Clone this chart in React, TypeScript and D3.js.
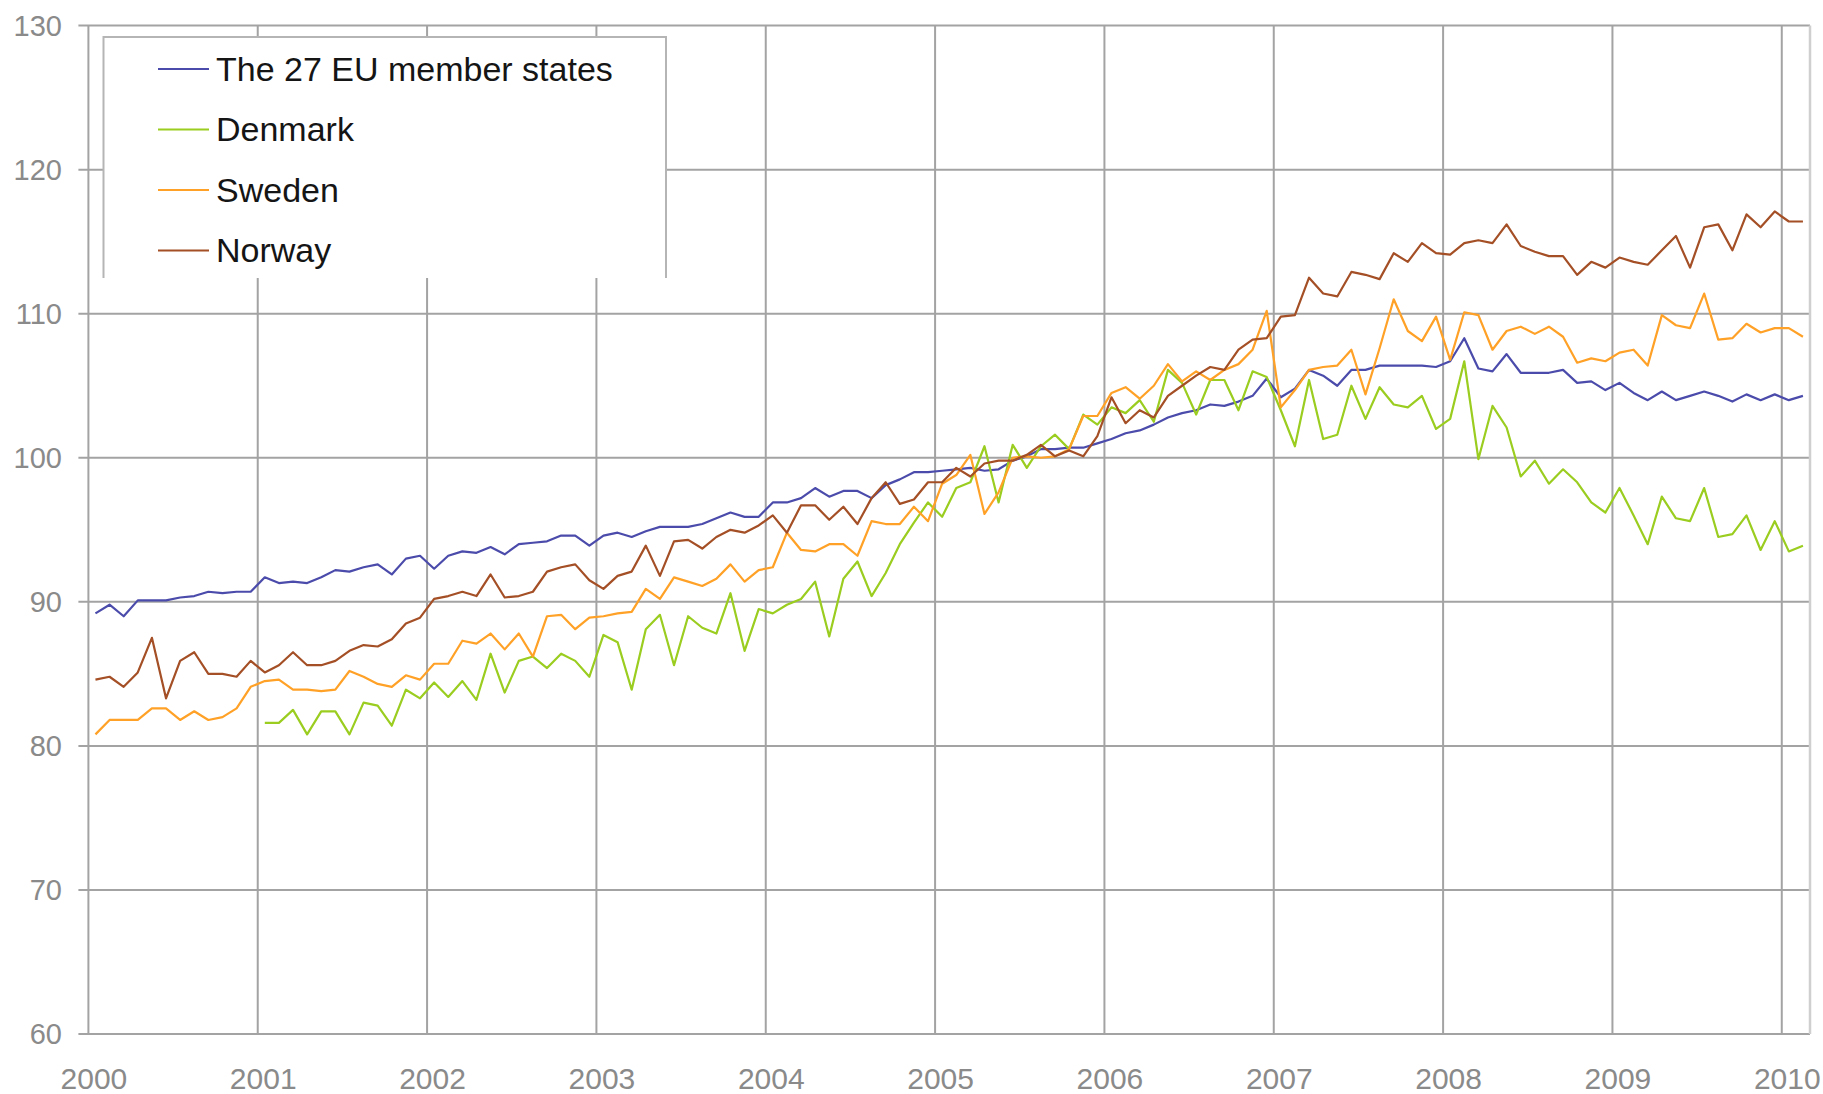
import React from "react";
import * as d3 from "d3";

const years = ["2000", "2001", "2002", "2003", "2004", "2005", "2006", "2007", "2008", "2009", "2010"];
const yTicks = [60, 70, 80, 90, 100, 110, 120, 130];
const seriesNames = ["The 27 EU member states", "Denmark", "Sweden", "Norway"];
const seriesColors = ["#4b4bab", "#9acd1f", "#ffa126", "#a44f25"];

// monthly values, Jan 2000 .. Feb 2010
const eu27 = [
  89.2, 89.8, 89.0, 90.1, 90.1, 90.1, 90.3, 90.4, 90.7, 90.6, 90.7, 90.7,
  91.7, 91.3, 91.4, 91.3, 91.7, 92.2, 92.1, 92.4, 92.6, 91.9, 93.0, 93.2,
  92.3, 93.2, 93.5, 93.4, 93.8, 93.3, 94.0, 94.1, 94.2, 94.6, 94.6, 93.9,
  94.6, 94.8, 94.5, 94.9, 95.2, 95.2, 95.2, 95.4, 95.8, 96.2, 95.9, 95.9,
  96.9, 96.9, 97.2, 97.9, 97.3, 97.7, 97.7, 97.2, 98.1, 98.5, 99.0, 99.0,
  99.1, 99.2, 99.3, 99.1, 99.2, 99.8, 100.1, 100.6, 100.6, 100.7, 100.7, 101.0,
  101.3, 101.7, 101.9, 102.3, 102.8, 103.1, 103.3, 103.7, 103.6, 103.9, 104.3, 105.5,
  104.2, 104.8, 106.1, 105.7, 105.0, 106.1, 106.1, 106.4, 106.4, 106.4, 106.4, 106.3,
  106.7, 108.3, 106.2, 106.0, 107.2, 105.9, 105.9, 105.9, 106.1, 105.2, 105.3, 104.7,
  105.2, 104.5, 104.0, 104.6, 104.0, 104.3, 104.6, 104.3, 103.9, 104.4, 104.0, 104.4,
  104.0, 104.3,
];

const denmark: (number | null)[] = [
  null, null, null, null, null, null, null, null, null, null, null, null,
  81.6, 81.6, 82.5, 80.8, 82.4, 82.4, 80.8, 83.0, 82.8, 81.4, 83.9, 83.3,
  84.4, 83.4, 84.5, 83.2, 86.4, 83.7, 85.9, 86.2, 85.4, 86.4, 85.9, 84.8,
  87.7, 87.2, 83.9, 88.1, 89.1, 85.6, 89.0, 88.2, 87.8, 90.6, 86.6, 89.5,
  89.2, 89.8, 90.2, 91.4, 87.6, 91.6, 92.8, 90.4, 92.0, 94.0, 95.5, 96.9,
  95.9, 97.9, 98.3, 100.8, 96.9, 100.9, 99.3, 100.8, 101.6, 100.6, 103.0, 102.3,
  103.5, 103.1, 104.0, 102.5, 106.1, 105.2, 103.0, 105.4, 105.4, 103.3, 106.0, 105.6,
  103.3, 100.8, 105.4, 101.3, 101.6, 105.0, 102.7, 104.9, 103.7, 103.5, 104.3, 102.0,
  102.7, 106.7, 99.9, 103.6, 102.1, 98.7, 99.8, 98.2, 99.2, 98.3, 96.9, 96.2,
  97.9, 96.0, 94.0, 97.3, 95.8, 95.6, 97.9, 94.5, 94.7, 96.0, 93.6, 95.6,
  93.5, 93.9,
];

const sweden = [
  80.8, 81.8, 81.8, 81.8, 82.6, 82.6, 81.8, 82.4, 81.8, 82.0, 82.6, 84.1,
  84.5, 84.6, 83.9, 83.9, 83.8, 83.9, 85.2, 84.8, 84.3, 84.1, 84.9, 84.6,
  85.7, 85.7, 87.3, 87.1, 87.8, 86.7, 87.8, 86.2, 89.0, 89.1, 88.1, 88.9,
  89.0, 89.2, 89.3, 90.9, 90.2, 91.7, 91.4, 91.1, 91.6, 92.6, 91.4, 92.2,
  92.4, 94.8, 93.6, 93.5, 94.0, 94.0, 93.2, 95.6, 95.4, 95.4, 96.6, 95.6,
  98.2, 98.8, 100.2, 96.1, 97.6, 100.0, 100.1, 100.0, 100.1, 100.6, 102.9, 102.9,
  104.5, 104.9, 104.1, 105.0, 106.5, 105.3, 106.0, 105.4, 106.1, 106.5, 107.5, 110.2,
  103.5, 104.7, 106.1, 106.3, 106.4, 107.5, 104.4, 107.6, 111.0, 108.8, 108.1, 109.8,
  106.8, 110.1, 109.9, 107.5, 108.8, 109.1, 108.6, 109.1, 108.4, 106.6, 106.9, 106.7,
  107.3, 107.5, 106.4, 109.9, 109.2, 109.0, 111.4, 108.2, 108.3, 109.3, 108.7, 109.0,
  109.0, 108.4,
];

const norway = [
  84.6, 84.8, 84.1, 85.1, 87.5, 83.3, 85.9, 86.5, 85.0, 85.0, 84.8, 85.9,
  85.1, 85.6, 86.5, 85.6, 85.6, 85.9, 86.6, 87.0, 86.9, 87.4, 88.5, 88.9,
  90.2, 90.4, 90.7, 90.4, 91.9, 90.3, 90.4, 90.7, 92.1, 92.4, 92.6, 91.5,
  90.9, 91.8, 92.1, 93.9, 91.8, 94.2, 94.3, 93.7, 94.5, 95.0, 94.8, 95.3,
  96.0, 94.8, 96.7, 96.7, 95.7, 96.6, 95.4, 97.2, 98.3, 96.8, 97.1, 98.3,
  98.3, 99.3, 98.7, 99.6, 99.8, 99.8, 100.2, 100.9, 100.1, 100.5, 100.1, 101.5,
  104.2, 102.4, 103.3, 102.8, 104.3, 105.0, 105.7, 106.3, 106.1, 107.5, 108.2, 108.3,
  109.8, 109.9, 112.5, 111.4, 111.2, 112.9, 112.7, 112.4, 114.2, 113.6, 114.9, 114.2,
  114.1, 114.9, 115.1, 114.9, 116.2, 114.7, 114.3, 114.0, 114.0, 112.7, 113.6, 113.2,
  113.9, 113.6, 113.4, 114.4, 115.4, 113.2, 116.0, 116.2, 114.4, 116.9, 116.0, 117.1,
  116.4, 116.4,
];

const allSeries = [eu27, denmark, sweden, norway];

const W = 1823;
const H = 1094;
const FONT = "'Liberation Sans', Arial, sans-serif";

export default function App() {
  const x = d3.scaleLinear().domain([0, 122]).range([88.4, 1810]);
  const y = d3.scaleLinear().domain([60, 130]).range([1034, 25.6]);
  const gridColor = "#a3a3a3";

  const line = d3
    .line<number | null>()
    .defined((d) => d !== null)
    .x((_, i) => x(i + 0.5))
    .y((d) => y(d as number));

  const legendX0 = 103.5;
  const legendX1 = 666;
  const legendY0 = 37;
  const legendY1 = 278;

  return (
    <svg
      width={W}
      height={H}
      style={{ position: "absolute", left: 0, top: 0, background: "#fff" }}
      fontFamily={FONT}
    >
      <rect x={0} y={0} width={W} height={H} fill="#fff" />
      {/* horizontal gridlines + y ticks */}
      {yTicks.map((t) => (
        <g key={"y" + t}>
          <line x1={x(0) - 10} x2={x(122)} y1={y(t)} y2={y(t)} stroke={gridColor} strokeWidth={2} />
          <text
            x={62}
            y={y(t)}
            dy="0.36em"
            textAnchor="end"
            fontSize={29}
            fill="#8a8a8a"
          >
            {t}
          </text>
        </g>
      ))}
      {/* vertical gridlines + x labels */}
      {years.map((yr, i) => (
        <g key={"x" + yr}>
          <line x1={x(i * 12)} x2={x(i * 12)} y1={y(130)} y2={y(60)} stroke={gridColor} strokeWidth={2} />
          <text x={x(i * 12) + 5.5} y={1089} textAnchor="middle" fontSize={30} fill="#8a8a8a">
            {yr}
          </text>
        </g>
      ))}
      <line x1={x(122)} x2={x(122)} y1={y(130)} y2={y(60)} stroke="#cfcfcf" strokeWidth={2.5} />

      {/* legend box */}
      <rect x={legendX0} y={legendY0} width={legendX1 - legendX0} height={legendY1 - legendY0} fill="#fff" />
      <path
        d={`M${legendX0},${legendY1} V${legendY0} H${legendX1} V${legendY1}`}
        fill="none"
        stroke="#b5b5b5"
        strokeWidth={2}
      />
      {seriesNames.map((name, i) => {
        const cy = 69 + i * 60.5;
        return (
          <g key={name}>
            <line x1={158} x2={209} y1={cy} y2={cy} stroke={seriesColors[i]} strokeWidth={2.2} />
            <text x={216} y={cy + 11.5} fontSize={34} fill="#151515">
              {name}
            </text>
          </g>
        );
      })}

      {/* series */}
      {allSeries.map((s, i) => (
        <path
          key={seriesNames[i]}
          d={line(s as (number | null)[]) || ""}
          fill="none"
          stroke={seriesColors[i]}
          strokeWidth={2.2}
          strokeLinejoin="round"
        />
      ))}
    </svg>
  );
}
